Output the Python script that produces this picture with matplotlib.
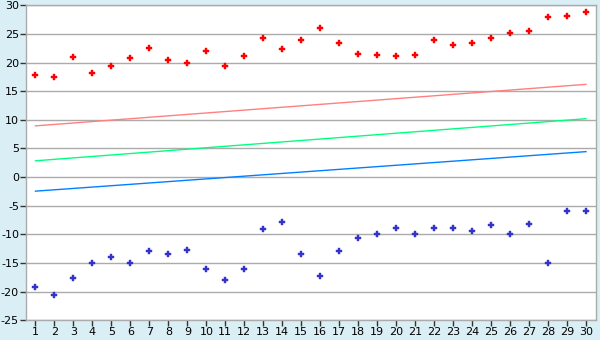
import matplotlib
matplotlib.use("Agg")
import matplotlib.pyplot as plt

categories = list(range(1, 31))
red_points = [17.9, 17.4, 21.0, 18.2, 19.4, 20.8, 22.6, 20.5, 20.0, 22.1,
              19.4, 21.2, 24.3, 22.4, 24.0, 26.1, 23.5, 21.5, 21.3, 21.2,
              21.3, 24.0, 23.1, 23.5, 24.3, 25.2, 25.6, 27.9, 28.2, 28.9]
blue_points = [-19.1, -20.5, -17.6, -15.0, -13.9, -15.0, -12.9, -13.4, -12.7, -16.0,
               -18.0, -16.0, -9.0, -7.8, -13.4, -17.2, -12.9, -10.6, -9.9, -8.8,
               -10.0, -8.8, -8.8, -9.4, -8.3, -10.0, -8.2, -15.0, -6.0, -6.0]
line_x = [1, 30]
red_line = [8.95, 16.2]
green_line = [2.85, 10.2]
blue_line = [-2.45, 4.45]
yticks = list(range(-25, 31, 5))

bg = "#D9EEF5"
fig = plt.figure(figsize=(6, 3.4), dpi=100, facecolor=bg)
ax = fig.add_axes([26/600, 1-320.3/340, (595.5-26)/600, (320.3-5.3)/340])
ax.set_facecolor("white")

for y in yticks:
    ax.axhline(y, color="#ABABAB", lw=1.0, zorder=1)

ax.plot(line_x, red_line, color="#FF8080", lw=1.0, zorder=2)
ax.plot(line_x, green_line, color="#00FF80", lw=1.0, zorder=2)
ax.plot(line_x, blue_line, color="#0080FF", lw=1.0, zorder=2)

ax.plot(categories, red_points, linestyle="none", marker="P", markersize=5,
        color="#FF0000", markeredgewidth=0.3, zorder=3)
ax.plot(categories, blue_points, linestyle="none", marker="P", markersize=5,
        color="#3333CC", markeredgewidth=0.3, zorder=3)

ax.set_xlim(0.5, 30.5)
ax.set_ylim(-25, 30)
ax.set_xticks(categories)
ax.set_xticklabels([str(c) for c in categories])
ax.set_yticks(yticks)
ax.set_yticklabels([str(y) for y in yticks])
ax.tick_params(axis="both", direction="out", length=4, width=1, color="#333333",
               labelsize=8, pad=1, labelcolor="black")
for s in ax.spines.values():
    s.set_color("#ABABAB")
    s.set_linewidth(1.0)

fig.savefig("out.png", dpi=100, facecolor=bg)
